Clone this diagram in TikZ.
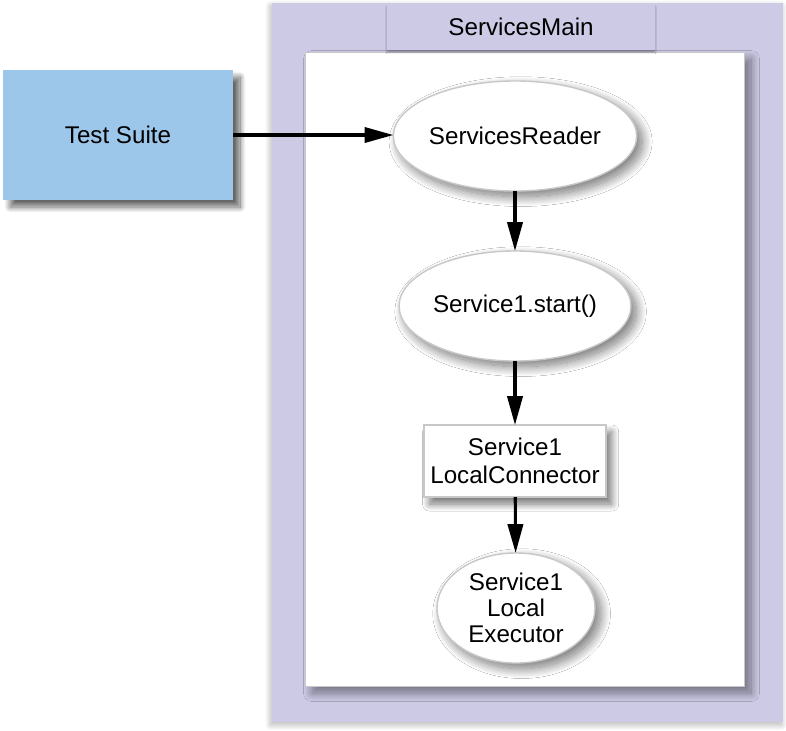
\documentclass[tikz,border=0pt]{standalone}
\usepackage{fontspec}
\setmainfont{Liberation Sans}
\usepackage{xcolor}
\usetikzlibrary{arrows.meta,shapes.geometric,shadows.blur,positioning}

\definecolor{framepurple}{RGB}{205,202,230}
\definecolor{suiteblue}{RGB}{157,199,234}
\definecolor{rimgray}{RGB}{200,200,200}

\begin{document}
\begin{tikzpicture}[x=0.025cm,y=-0.025cm,inner sep=0,outer sep=0,
    font=\fontsize{17.2}{19.8}\selectfont,
    oval/.style={ellipse,draw=rimgray,line width=1pt,fill=white,align=center,
      minimum width=4.7cm,minimum height=2.75cm,
      blur shadow={shadow xshift=4pt,shadow yshift=-4pt,shadow blur radius=7pt,shadow blur steps=25,shadow opacity=55}},
    flow/.style={draw=black,line width=2.2pt,-{Triangle[length=7.2mm,width=3.8mm]}}]

    \useasboundingbox (0,0) rectangle (786,730);

    % Outer frame
    \fill[framepurple,blur shadow={shadow xshift=-1pt,shadow yshift=-2pt,shadow blur radius=4pt,shadow blur steps=20,shadow opacity=30}]
      (272,3) rectangle (783,722);

    % Inner area
    \filldraw[fill=white,draw=rimgray,line width=0.6pt,
      blur shadow={shadow xshift=5pt,shadow yshift=-5pt,shadow blur radius=6pt,shadow blur steps=25,shadow opacity=45}]
      (305,52) rectangle (744,686);
    \node[fill=framepurple,minimum width=6.7cm,minimum height=1.15cm,
      blur shadow={shadow xshift=0pt,shadow yshift=-2pt,shadow blur radius=0.8pt,shadow opacity=25}]
      (mainlabel) at (521,27) {ServicesMain};

    % Test suite
    \node[fill=suiteblue,minimum width=5.75cm,minimum height=3.25cm,
      blur shadow={shadow xshift=5pt,shadow yshift=-5pt,shadow blur radius=4pt,shadow blur steps=20,shadow opacity=60}]
      (suite) at (118,135) {Test Suite};

    % The flow
    \node[oval] (reader) at (515,136) {ServicesReader};
    \node[oval] (start) at (515,306) {Service1.start()};
    \node[rectangle,draw=rimgray,line width=1.5pt,fill=white,align=center,
      minimum width=4.55cm,minimum height=1.8cm,
      blur shadow={shadow xshift=4pt,shadow yshift=-5pt,shadow blur radius=5pt,shadow blur steps=20,shadow opacity=55}]
      (connector) at (515,461) {Service1\\LocalConnector};
    \node[oval,minimum width=3.95cm,font=\fontsize{17.2}{18.6}\selectfont] (executor) at (516,608) {Service1\\Local\\Executor};

    % Arrows
    \draw[flow] (suite) -- (suite -| reader.west);
    \draw[flow] (reader) -- (start);
    \draw[flow] (start) -- (connector);
    \draw[flow] (connector) -- (executor);

\end{tikzpicture}
\end{document}
